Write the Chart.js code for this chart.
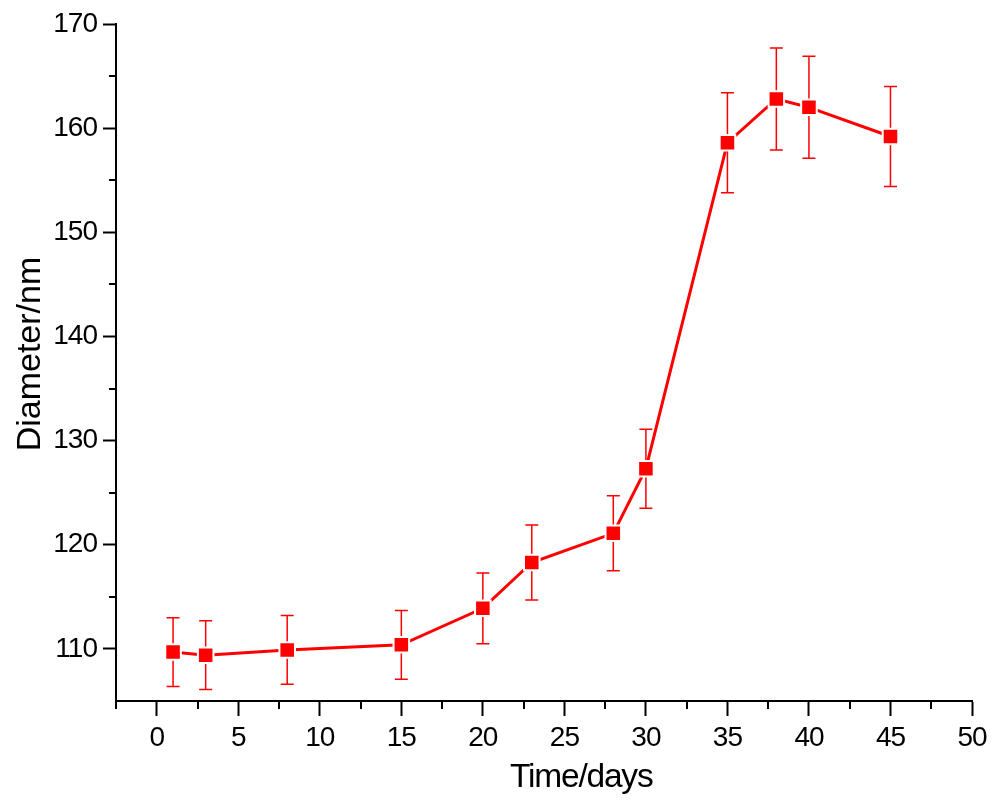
<!DOCTYPE html>
<html>
<head>
<meta charset="utf-8">
<script src="https://cdn.jsdelivr.net/npm/chart.js@4.4.1/dist/chart.umd.min.js"></script>
<style>
  html, body { margin: 0; padding: 0; background: #ffffff; }
  canvas { display: block; }
</style>
</head>
<body>
<canvas id="chart" width="993" height="802"></canvas>
<script>
// Particle diameter measured over storage time
const days      = [1, 3, 8, 15, 20, 23, 28, 30, 35, 38, 40, 45];
const diameter  = [109.7, 109.4, 109.9, 110.4, 113.9, 118.3, 121.1, 127.3, 158.6, 162.8, 162.0, 159.2];
const deviation = [3.3, 3.3, 3.3, 3.3, 3.4, 3.6, 3.6, 3.8, 4.8, 4.9, 4.9, 4.8];

// Axis ticks
const xMajorTicks = [0, 5, 10, 15, 20, 25, 30, 35, 40, 45, 50];
const xMinorTicks = [-2.5, 2.5, 7.5, 12.5, 17.5, 22.5, 27.5, 32.5, 37.5, 42.5, 47.5];
const yMajorTicks = [110, 120, 130, 140, 150, 160, 170];
const yMinorTicks = [115, 125, 135, 145, 155, 165];

const xTitle = 'Time/days';
const yTitle = 'Diameter/nm';

const RED = '#ff0000';
const FONT = '"Liberation Sans", Arial, sans-serif';

// Vertical error bars with caps, drawn beneath the line and markers
const errorBars = {
  id: 'errorBars',
  beforeDatasetsDraw(chart) {
    const { ctx, scales: { x, y } } = chart;
    ctx.save();
    ctx.strokeStyle = RED;
    ctx.lineWidth = 1.5;
    const cap = 6.5;
    days.forEach((d, i) => {
      const px = x.getPixelForValue(d);
      const top = y.getPixelForValue(diameter[i] + deviation[i]);
      const bot = y.getPixelForValue(diameter[i] - deviation[i]);
      ctx.beginPath();
      ctx.moveTo(px, top); ctx.lineTo(px, bot);
      ctx.moveTo(px - cap, top); ctx.lineTo(px + cap, top);
      ctx.moveTo(px - cap, bot); ctx.lineTo(px + cap, bot);
      ctx.stroke();
    });
    ctx.restore();
  }
};

// Tight spacing for tick labels, plus minor ticks and the axis titles
const axisDecor = {
  id: 'axisDecor',
  beforeDraw(chart) {
    chart.ctx.letterSpacing = '-1px';
  },
  afterDraw(chart) {
    const { ctx, chartArea: a, scales: { x, y } } = chart;
    ctx.save();
    ctx.strokeStyle = '#000000';
    ctx.lineWidth = 2;
    ctx.beginPath();
    xMinorTicks.forEach(v => {
      const px = Math.round(x.getPixelForValue(v));
      ctx.moveTo(px, a.bottom);
      ctx.lineTo(px, a.bottom + 8);
    });
    yMinorTicks.forEach(v => {
      const py = Math.round(y.getPixelForValue(v));
      ctx.moveTo(a.left, py);
      ctx.lineTo(a.left - 7, py);
    });
    ctx.stroke();

    ctx.fillStyle = '#000000';
    ctx.textAlign = 'center';
    ctx.textBaseline = 'alphabetic';

    // x axis title
    ctx.letterSpacing = '-1.2px';
    ctx.font = '33.5px ' + FONT;
    ctx.fillText(xTitle, a.left + (a.right - a.left) * 0.5435, a.bottom + 86);

    // y axis title
    ctx.letterSpacing = '0px';
    ctx.font = '34px ' + FONT;
    ctx.translate(a.left - 76, a.top + (a.bottom - a.top) * 0.4875);
    ctx.rotate(-Math.PI / 2);
    ctx.fillText(yTitle, 0, 0);
    ctx.restore();
    ctx.letterSpacing = '0px';
  }
};

const chart = new Chart(document.getElementById('chart'), {
  type: 'line',
  data: {
    datasets: [{
      data: days.map((d, i) => ({ x: d, y: diameter[i] })),
      borderColor: RED,
      backgroundColor: RED,
      borderWidth: 3,
      tension: 0,
      pointStyle: 'rect',
      pointRadius: 11,
      pointBackgroundColor: RED,
      pointBorderColor: '#ffffff',
      pointBorderWidth: 2
    }]
  },
  options: {
    responsive: false,
    animation: false,
    devicePixelRatio: 1,
    layout: { padding: { top: 24, right: 21, left: 0, bottom: 0 } },
    plugins: {
      legend: { display: false },
      tooltip: { enabled: false }
    },
    scales: {
      x: {
        type: 'linear',
        min: -2.5,
        max: 50,
        afterBuildTicks: s => { s.ticks = xMajorTicks.map(v => ({ value: v })); },
        afterFit: s => { s.height = 101; },
        grid: {
          drawOnChartArea: false,
          drawTicks: true,
          tickLength: 15,
          tickWidth: 2,
          tickColor: '#000000'
        },
        border: { display: true, color: '#000000', width: 2 },
        ticks: {
          color: '#000000',
          padding: 5,
          maxRotation: 0,
          font: { family: FONT, size: 28 }
        }
      },
      y: {
        type: 'linear',
        min: 105,
        max: 170,
        afterBuildTicks: s => { s.ticks = yMajorTicks.map(v => ({ value: v })); },
        afterFit: s => { s.width = 116; },
        grid: {
          drawOnChartArea: false,
          drawTicks: true,
          tickLength: 13,
          tickWidth: 2,
          tickColor: '#000000'
        },
        border: { display: true, color: '#000000', width: 2 },
        ticks: {
          color: '#000000',
          padding: 6,
          font: { family: FONT, size: 28 }
        }
      }
    }
  },
  plugins: [errorBars, axisDecor]
});
</script>
</body>
</html>
